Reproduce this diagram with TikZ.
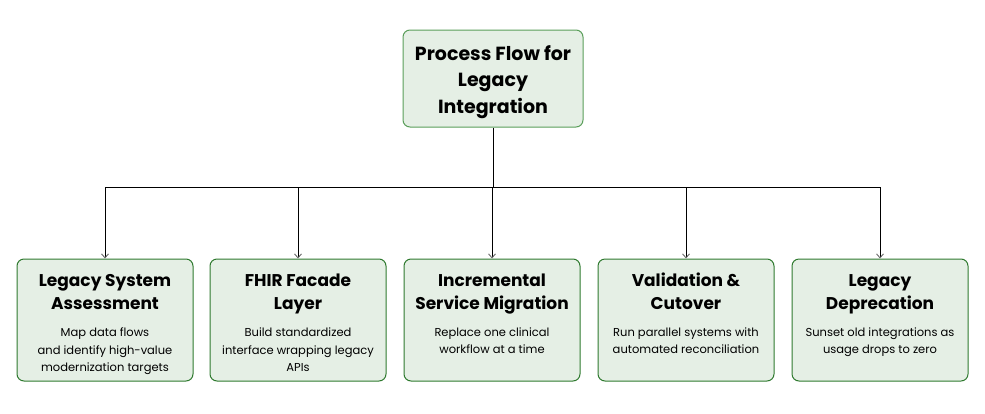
\documentclass[tikz,border=0pt]{standalone}
\usepackage{fontspec}
\setmainfont{Poppins}
\usetikzlibrary{arrows.meta}
\definecolor{boxfill}{HTML}{E5EFE5}
\definecolor{topline}{HTML}{5A9E5A}
\definecolor{boxline}{HTML}{2F7A2F}
\tikzset{
  topbox/.style={draw=topline, line width=1pt, fill=boxfill, rounded corners=7pt, minimum width=180pt, minimum height=97pt, inner sep=0pt},
  stepbox/.style={draw=boxline, line width=1pt, fill=boxfill, rounded corners=7pt, minimum width=176pt, minimum height=122pt, inner sep=0pt},
  conn/.style={draw=black, line width=0.9pt},
  arr/.style={conn, -{Straight Barb[length=4pt,width=7pt,color=gray!80!black]}},
}
\begin{document}
\begin{tikzpicture}[x=1pt,y=-1pt]
\useasboundingbox (0,0) rectangle (985,413);
\node[topbox] (top) at (493,78.5) {};
\node[font=\bfseries\fontsize{19}{26.5}\selectfont, align=center, anchor=base] (toptext) at (493,113) {Process Flow for\\Legacy\\Integration};

\foreach \i/\x in {1/105,2/298,3/492,4/686,5/880}{
  \node[stepbox] (b\i) at (\x,320) {};
}
\tikzset{ttl/.style={font=\bfseries\fontsize{17}{23}\selectfont, align=center, anchor=base}, bdy/.style={font=\fontsize{11.5}{17.5}\selectfont, align=center, anchor=base}}
\node[ttl] (t1) at (105,309.5) {Legacy System\\Assessment};
\node[ttl] (t2) at (298,309.5) {FHIR Facade\\Layer};
\node[ttl] (t3) at (492,309.5) {Incremental\\Service Migration};
\node[ttl] (t4) at (686,309.5) {Validation \&\\Cutover};
\node[ttl] (t5) at (880,309.5) {Legacy\\Deprecation};
\node[bdy] (d1) at (105,371.5) {Map data flows\\and identify high-value\\modernization targets};
\node[bdy] (d2) at (298,371.5) {Build standardized\\interface wrapping legacy\\APIs};
\node[bdy] (d3) at (492,353.5) {Replace one clinical\\workflow at a time};
\node[bdy] (d4) at (686,353.5) {Run parallel systems with\\automated reconciliation};
\node[bdy] (d5) at (880,353.5) {Sunset old integrations as\\usage drops to zero};

\coordinate (hub) at (493,187);
\draw[conn] (top.south) -- (hub);
\foreach \i in {1,...,5}{
  \draw[arr] (hub) -| (b\i.north);
}
\end{tikzpicture}
\end{document}
